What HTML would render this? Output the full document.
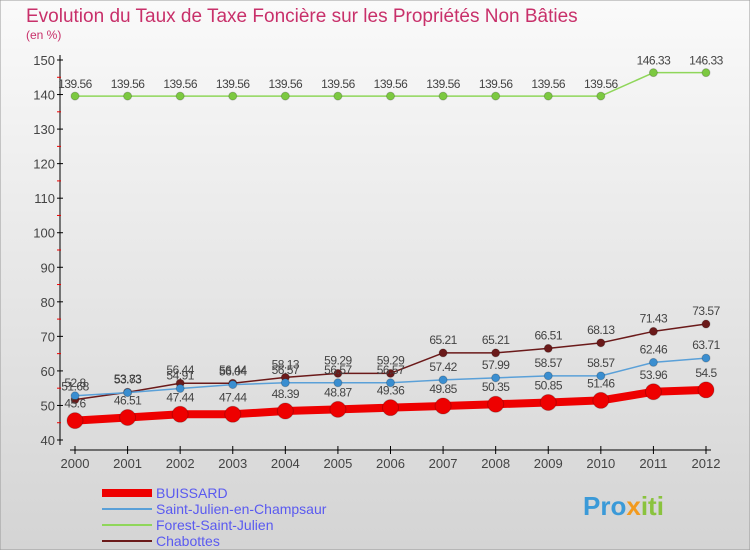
<!DOCTYPE html>
<html><head><meta charset="utf-8"><style>
body{margin:0;width:750px;height:550px;overflow:hidden;font-family:"Liberation Sans",sans-serif}
</style></head><body>
<svg width="750" height="550" xmlns="http://www.w3.org/2000/svg">
<defs><linearGradient id="bg" x1="0" y1="0" x2="0" y2="1"><stop offset="0" stop-color="#fafafa"/><stop offset="1" stop-color="#d4d4d4"/></linearGradient></defs>
<rect x="0" y="0" width="750" height="550" fill="url(#bg)" stroke="#999"/>
<text x="26" y="22" font-size="19" fill="#c8306a">Evolution du Taux de Taxe Foncière sur les Propriétés Non Bâties</text>
<text x="26" y="39" font-size="12" fill="#c8306a">(en %)</text>
<g id="axes"></g>
<g id="series"></g>
<g id="legend" font-size="14"></g>
<text x="583" y="515" font-size="26" font-weight="bold" fill="#3b9ad8">Pro<tspan fill="#f29a1e">x</tspan><tspan fill="#8ac33e">iti</tspan></text>
</svg>
<script>
const years=[2000,2001,2002,2003,2004,2005,2006,2007,2008,2009,2010,2011,2012];
const yTicks=[40,50,60,70,80,90,100,110,120,130,140,150];
const buissard=[45.6,46.51,47.44,47.44,48.39,48.87,49.36,49.85,50.35,50.85,51.46,53.96,54.5];
const saintJulien=[52.8,53.73,54.91,56.04,56.57,56.57,56.57,57.42,57.99,58.57,58.57,62.46,63.71];
const forest=[139.56,139.56,139.56,139.56,139.56,139.56,139.56,139.56,139.56,139.56,139.56,146.33,146.33];
const chabottes=[51.68,53.83,56.44,56.44,58.13,59.29,59.29,65.21,65.21,66.51,68.13,71.43,73.57];
const NS="http://www.w3.org/2000/svg";
const X=i=>75+i*(706-75)/(years.length-1);
const Y=v=>440-(v-40)*(380/110);
function mk(t,a,p){const e=document.createElementNS(NS,t);for(const k in a)e.setAttribute(k,a[k]);p.appendChild(e);return e;}
const ax=document.getElementById('axes');
let l=mk('line',{x1:60,y1:55,x2:60,y2:445,stroke:'#000','stroke-width':1},ax);


l=mk('line',{x1:70,y1:450,x2:711,y2:450,stroke:'#000','stroke-width':1},ax);


yTicks.forEach(v=>{
  mk('line',{x1:57,y1:Y(v),x2:63,y2:Y(v),stroke:'#000'},ax);
  if(v<150) mk('line',{x1:57,y1:Y(v+5),x2:61,y2:Y(v+5),stroke:'#e00'},ax);
  const t=mk('text',{x:55,y:Y(v)+5,'text-anchor':'end','font-size':13,fill:'#444'},ax);
  t.textContent=v;
  
  
});
years.forEach((y,i)=>{
  mk('line',{x1:X(i),y1:446,x2:X(i),y2:454,stroke:'#000'},ax);
  const t=mk('text',{x:X(i),y:468,'text-anchor':'middle','font-size':13,fill:'#444'},ax);
  t.textContent=y;
  
  
});
const sg=document.getElementById('series');
function series(vals,name,color,w,r,dotFill,labelDy){
  const g=mk('g',{},sg);
  
  
  const pl=mk('polyline',{points:vals.map((v,i)=>X(i)+','+Y(v)).join(' '),fill:'none',stroke:color,'stroke-width':w,'stroke-linejoin':'round'},g);
  
  
  vals.forEach((v,i)=>{
    const c=mk('circle',{cx:X(i),cy:Y(v),r:r,fill:dotFill,stroke:'rgba(0,0,0,0.2)'},g);
    
    
    const t=mk('text',{x:X(i),y:Y(v)+labelDy,'text-anchor':'middle','font-size':12,fill:'#444','letter-spacing':'-0.5'},g);
    t.textContent=v;
    
    
  });
}
series(forest,'forest-saint-julien','#8fd65a',1.5,4,'#7cc940',-8);
series(chabottes,'chabottes','#6b1a1a',1.5,4,'#6b1a1a',-9);
series(saintJulien,'saint-julien','#5aa0d8',1.5,4,'#3a8ed0',-9);
series(buissard,'buissard','#ee0000',8,8,'#ee0000',-13);
const lg=document.getElementById('legend');
[['BUISSARD','#ee0000',8],['Saint-Julien-en-Champsaur','#5aa0d8',2],['Forest-Saint-Julien','#8fd65a',2],['Chabottes','#6b1a1a',2]].forEach((d,i)=>{
  const y=493+i*16;
  const ln=mk('line',{x1:102,y1:y,x2:152,y2:y,stroke:d[1],'stroke-width':d[2]},lg);
  
  
  const t=mk('text',{x:156,y:y+5,fill:'#5a5af0'},lg);
  t.textContent=d[0];
  
  
});
</script>
</body></html>
